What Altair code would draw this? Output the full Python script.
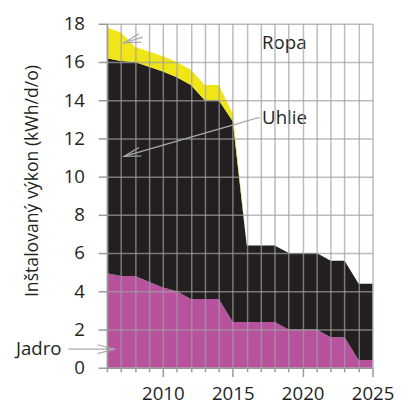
import math
import altair as alt
import pandas as pd

# ---- data ----
years = list(range(2006, 2026))
series = ["Jadro", "Uhlie", "Ropa"]
jadro = [4.95, 4.8, 4.8, 4.5, 4.2, 4.0, 3.6, 3.6, 3.6, 2.4, 2.4, 2.4, 2.4, 2.0, 2.0, 2.0, 1.6, 1.6, 0.4, 0.4]
uhlie = [11.25, 11.25, 11.2, 11.25, 11.3, 11.2, 11.2, 10.4, 10.4, 10.5, 4.0, 4.0, 4.0, 4.0, 4.0, 4.0, 4.0, 4.0, 4.0, 4.0]
ropa = [1.6, 1.5, 0.8, 0.8, 0.8, 0.8, 0.8, 0.8, 0.8, 0.4, 0, 0, 0, 0, 0, 0, 0, 0, 0, 0]
colors = ["#b8519e", "#231f20", "#f0e516"]

x_ticks = years
y_ticks = list(range(0, 20, 2))

# annotations (text anchor and arrow in data coordinates)
ann_text = ["Ropa", "Uhlie", "Jadro"]
ann_tx = [2017.1, 2017.1, 2002.75]
ann_ty = [17.0, 13.05, 0.96]
ann_align = ["left", "left", "right"]
arrow_x1 = [2008.56, 2016.9, 2003.25]
arrow_y1 = [17.3, 13.1, 0.97]
arrow_x2 = [2007.23, 2007.23, 2006.52]
arrow_y2 = [17.0, 11.06, 0.97]

W, H = 271, 351
FONT = "Open Sans"

rows = []
for vals, name, k in zip([jadro, uhlie, ropa], series, range(3)):
    for y, v in zip(years, vals):
        rows.append({"rok": y, "zdroj": name, "hodnota": v, "poradie": k})
df = pd.DataFrame(rows)

px_y = W / (2025 - 2006)
px_v = H / 18.0
angles = [math.degrees(math.atan2(-(b2 - b1) * px_v, (a2 - a1) * px_y))
          for a1, b1, a2, b2 in zip(arrow_x1, arrow_y1, arrow_x2, arrow_y2)]
angles = [a % 360 for a in angles]

ann = pd.DataFrame({
    "text": ann_text, "tx": ann_tx, "ty": ann_ty, "align": ann_align,
    "x1": arrow_x1, "y1": arrow_y1, "x2": arrow_x2, "y2": arrow_y2, "ang": angles,
})

xscale = alt.Scale(domain=[2006, 2025], nice=False, zero=False)
yscale = alt.Scale(domain=[0, 18], nice=False)

xaxis = alt.Axis(
    values=x_ticks, format="d", title=None, grid=True, zindex=1,
    labelExpr="datum.value % 5 === 0 ? datum.label : ''",
    tickSize={"condition": {"test": "datum.value % 5 === 0", "value": 9}, "value": 4},
    labelPadding=8, labelFontSize=19, labelFont=FONT, labelColor="#231f20",
    labelFlush=False, labelOverlap=False,
)
yaxis = alt.Axis(
    values=y_ticks, title="Inštalovaný výkon (kWh/d/o)", grid=True, zindex=1,
    tickSize=9, labelPadding=14, labelFontSize=19, labelFont=FONT, labelColor="#231f20",
    labelOverlap=False,
    titleFont=FONT, titleFontSize=18, titleFontWeight="normal", titleColor="#231f20",
    titleX=-67, titleY=160,
)

areas = alt.Chart(df).mark_area(interpolate="linear").encode(
    x=alt.X("rok:Q", scale=xscale, axis=xaxis),
    y=alt.Y("hodnota:Q", stack="zero", scale=yscale, axis=yaxis),
    color=alt.Color("zdroj:N", scale=alt.Scale(domain=series, range=colors), legend=None),
    order=alt.Order("poradie:Q"),
)

lines = alt.Chart(ann).mark_rule(color="#aaaaaa", strokeWidth=1.2, clip=False).encode(
    x=alt.X("x1:Q", scale=xscale, axis=xaxis), y=alt.Y("y1:Q", scale=yscale, axis=yaxis),
    x2="x2:Q", y2="y2:Q",
)

heads = alt.Chart(ann).mark_point(
    shape="M-3.4,-0.9L0,0L-3.4,0.9", filled=False, color="#aaaaaa",
    strokeWidth=1.2, size=100, opacity=1, clip=False,
).encode(
    x=alt.X("x2:Q", scale=xscale, axis=xaxis), y=alt.Y("y2:Q", scale=yscale, axis=yaxis),
    angle=alt.Angle("ang:Q", scale=None),
)

def text_layer(al):
    return alt.Chart(ann).transform_filter(
        alt.datum.align == al
    ).mark_text(
        font=FONT, fontSize=19, color="#231f20", baseline="middle", align=al, clip=False,
    ).encode(
        x=alt.X("tx:Q", scale=xscale, axis=xaxis), y=alt.Y("ty:Q", scale=yscale, axis=yaxis),
        text="text:N",
    )

chart = alt.layer(areas, lines, heads, text_layer("left"), text_layer("right")).properties(
    width=W, height=H,
    autosize=alt.AutoSizeParams(type="none"),
    padding={"left": 101, "top": 12, "right": 27, "bottom": 38},
).configure_view(stroke=None).configure_axis(
    gridColor="#a0a0a0", gridOpacity=0.7, gridWidth=1.5,
    tickColor="#999999", tickWidth=1.5, domainColor="#999999", domainWidth=1.5,
)

chart.save("out.html", embed_options={"renderer": "svg", "actions": False})
